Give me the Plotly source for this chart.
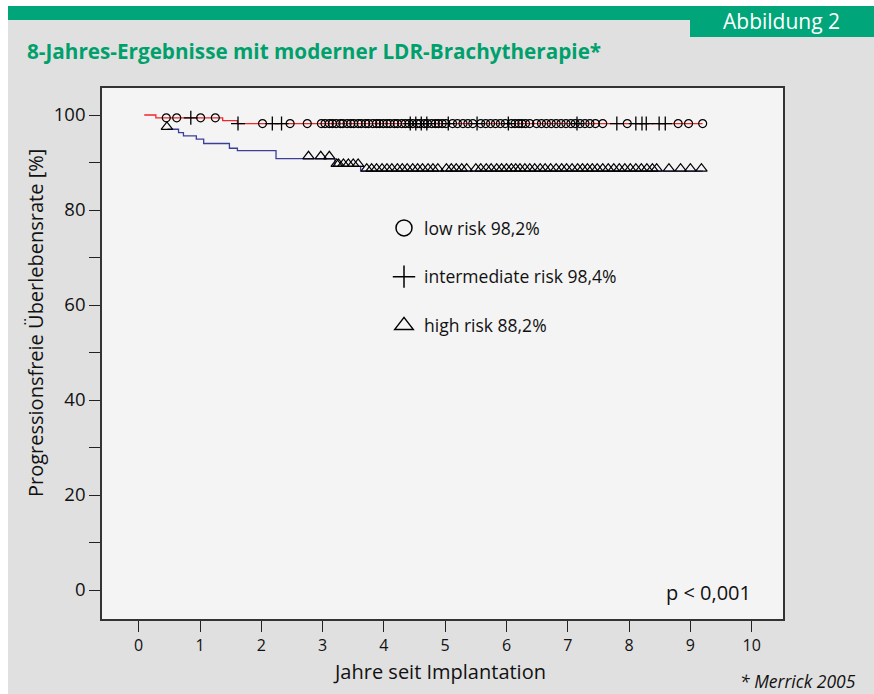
import plotly.graph_objects as go

# ---- data ----
# Kaplan-Meier step curves (time in years, survival in %)
low_curve_x = [0.09, 0.28, 1.37, 1.61, 9.20]
low_curve_y = [100.0, 99.4, 98.8, 98.2, 98.2]

high_curve_x = [0.47, 0.65, 0.73, 0.94, 1.06, 1.48, 1.61, 2.24, 3.20, 3.62, 9.20]
high_curve_y = [97.0, 96.3, 95.6, 94.9, 94.0, 93.0, 92.5, 90.8, 89.2, 88.2, 88.2]

# censoring marks
low_censor = [0.45, 0.62, 1.01, 1.25, 2.02, 2.47, 2.75,
              2.98, 3.04, 3.11, 3.16, 3.22, 3.29, 3.33, 3.40, 3.46, 3.51, 3.58,
              3.63, 3.70, 3.75, 3.82, 3.88, 3.93, 3.99, 4.05, 4.10, 4.17, 4.22,
              4.29, 4.35, 4.41, 4.47, 4.54, 4.59, 4.66, 4.71, 4.78, 4.84, 4.89,
              4.95, 5.01,
              5.12, 5.20, 5.29, 5.37, 5.45,
              5.58, 5.66, 5.74, 5.82, 5.90, 5.98,
              6.08, 6.14, 6.20, 6.25, 6.31, 6.38,
              6.49, 6.57, 6.65, 6.73, 6.81, 6.89, 6.97, 7.05, 7.12,
              7.20, 7.28, 7.36, 7.45,
              7.57, 7.97, 8.80, 8.97, 9.20]
int_censor = [0.85, 1.62, 2.18, 2.33, 4.43, 4.52, 4.61, 4.70,
              5.05, 5.52, 6.03, 7.15, 7.80, 8.11, 8.21, 8.28, 8.49, 8.59]
high_censor = [0.46, 2.77, 2.97, 3.11, 3.23,
               3.26, 3.34, 3.42, 3.50, 3.58,
               3.72, 3.80, 3.88, 3.97, 4.05, 4.13, 4.22, 4.30, 4.38, 4.47,
               4.55, 4.63, 4.72, 4.80, 4.88, 5.02, 5.10, 5.18, 5.27, 5.35,
               5.50, 5.58, 5.67, 5.75, 5.84, 5.92, 6.00, 6.08, 6.15, 6.22,
               6.30, 6.38, 6.46, 6.55, 6.63, 6.72, 6.81, 6.90, 6.98, 7.07,
               7.16, 7.24, 7.32, 7.40, 7.48, 7.57, 7.66, 7.75, 7.84, 7.93,
               8.02, 8.11, 8.20, 8.29, 8.38, 8.45,
               8.65, 8.84, 9.00, 9.18]

legend_names = ["low risk 98,2%", "intermediate risk 98,4%", "high risk 88,2%"]

x_ticks = list(range(0, 11))
y_ticks = list(range(0, 101, 10))
y_ticktext = [str(v) if v % 20 == 0 else "" for v in y_ticks]


def step_value(t, xs, ys):
    v = ys[0]
    for xi, yi in zip(xs, ys):
        if xi <= t + 1e-9:
            v = yi
    return v


FONT = "Open Sans"
RED = "#f0262c"
BLUE = "#3c3f98"
TXT = "#111111"

fig = go.Figure()

fig.add_trace(go.Scatter(x=high_curve_x, y=high_curve_y, mode="lines",
                         line=dict(color=BLUE, width=1.3, shape="hv"),
                         showlegend=False, hoverinfo="skip"))
fig.add_trace(go.Scatter(x=low_curve_x, y=low_curve_y, mode="lines",
                         line=dict(color=RED, width=1.3, shape="hv"),
                         showlegend=False, hoverinfo="skip"))

fig.add_trace(go.Scatter(x=high_censor,
                         y=[step_value(t, high_curve_x, high_curve_y) + 0.5 for t in high_censor],
                         mode="markers",
                         marker=dict(symbol="triangle-up-open", size=10, color="black",
                                     line=dict(width=1.2, color="black")),
                         showlegend=False))
fig.add_trace(go.Scatter(x=low_censor,
                         y=[step_value(t, low_curve_x, low_curve_y) for t in low_censor],
                         mode="markers",
                         marker=dict(symbol="circle-open", size=8, color="black",
                                     line=dict(width=1.2, color="black")),
                         showlegend=False))
fig.add_trace(go.Scatter(x=int_censor,
                         y=[step_value(t, low_curve_x, low_curve_y) for t in int_censor],
                         mode="markers",
                         marker=dict(symbol="cross-thin-open", size=10, color="black",
                                     line=dict(width=1.3, color="black")),
                         showlegend=False))

# legend entries
for name, sym, g in zip(legend_names,
                        ["circle-open", "cross-thin-open", "triangle-up-open"],
                        ["a", "b", "c"]):
    fig.add_trace(go.Scatter(x=[None], y=[None], mode="markers", name=name,
                             legendgroup=g,
                             marker=dict(symbol=sym, size=17, color="black",
                                         line=dict(width=1.5, color="black"))))

W, H = 874, 694
L, R, T, B = 102, 783, 88, 619


def px(x):
    return (x - L) / (R - L)


def py(y):
    return (B - y) / (B - T)


shapes = [
    # white top strip and left strip
    dict(type="rect", xref="paper", yref="paper", x0=px(-5), x1=px(W + 5),
         y0=py(6), y1=py(-5), fillcolor="white", line=dict(width=0), layer="below"),
    dict(type="rect", xref="paper", yref="paper", x0=px(-5), x1=px(8),
         y0=py(H + 5), y1=py(-5), fillcolor="white", line=dict(width=0), layer="below"),
    # green band
    dict(type="rect", xref="paper", yref="paper", x0=px(8), x1=px(W + 5),
         y0=py(20), y1=py(6), fillcolor="#00a67a", line=dict(width=0), layer="below"),
    # green label box
    dict(type="rect", xref="paper", yref="paper", x0=px(690), x1=px(W + 5),
         y0=py(37), y1=py(6), fillcolor="#00a67a", line=dict(width=0), layer="below"),
]

annotations = [
    dict(text="<b>8-Jahres-Ergebnisse mit moderner LDR-Brachytherapie*</b>",
         xref="paper", yref="paper", x=px(25), y=py(51), xanchor="left", yanchor="middle",
         showarrow=False, font=dict(family=FONT, size=20.7, color="#00a06c")),
    dict(text="Abbildung 2", xref="paper", yref="paper", x=px(781), y=py(21),
         xanchor="center", yanchor="middle", showarrow=False,
         font=dict(family=FONT, size=21, color="white")),
    dict(text="Jahre seit Implantation", xref="paper", yref="paper", x=px(439), y=py(671),
         xanchor="center", yanchor="middle", showarrow=False,
         font=dict(family=FONT, size=20, color=TXT)),
    dict(text="Progressionsfreie Überlebensrate [%]", xref="paper", yref="paper",
         x=px(35), y=py(323), xanchor="center", yanchor="middle", textangle=-90,
         showarrow=False, font=dict(family=FONT, size=20, color=TXT)),
    dict(text="p < 0,001", xref="paper", yref="paper", x=px(753), y=py(592),
         xanchor="right", yanchor="middle", showarrow=False,
         font=dict(family=FONT, size=20, color=TXT)),
    dict(text="<i>* Merrick 2005</i>", xref="paper", yref="paper", x=px(858), y=py(681),
         xanchor="right", yanchor="middle", showarrow=False,
         font=dict(family=FONT, size=17.5, color=TXT)),
]

fig.update_layout(
    width=W, height=H,
    margin=dict(l=L, r=W - R, t=T, b=H - B, pad=0),
    paper_bgcolor="#e0e0e0",
    plot_bgcolor="#f4f4f4",
    shapes=shapes,
    annotations=annotations,
    showlegend=True,
    legend=dict(x=px(384), y=py(210), xanchor="left", yanchor="top",
                bgcolor="rgba(0,0,0,0)", traceorder="grouped", tracegroupgap=23,
                font=dict(family=FONT, size=17.5, color=TXT)),
    xaxis=dict(range=[(L - 138.7) / 61.3, (R - 138.7) / 61.3],
               tickvals=x_ticks, ticktext=[str(v) for v in x_ticks],
               ticks="outside", ticklen=11, tickwidth=1.2, tickcolor="#222222",
               showgrid=False, zeroline=False, showline=True, mirror=True,
               linecolor="#333333", linewidth=1.6,
               tickfont=dict(family=FONT, size=16, color=TXT)),
    yaxis=dict(range=[(590 - B) / 4.75, (590 - T) / 4.75],
               tickvals=y_ticks, ticktext=y_ticktext,
               ticks="outside", ticklen=11, tickwidth=1.2, tickcolor="#222222",
               showgrid=False, zeroline=False, showline=True, mirror=True,
               linecolor="#333333", linewidth=1.6,
               tickfont=dict(family=FONT, size=18.5, color=TXT)),
)

fig.write_html("out.html", config={"displayModeBar": False},
               post_script="document.body.style.margin='0';")
